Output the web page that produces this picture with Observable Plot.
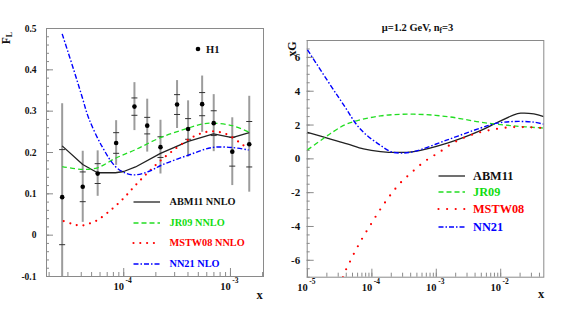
<!DOCTYPE html>
<html><head><meta charset="utf-8">
<script src="https://cdn.jsdelivr.net/npm/d3@7"></script>
<script src="https://cdn.jsdelivr.net/npm/@observablehq/plot@0.6"></script>
<style>
body{margin:0;background:#fff;}
#wrap{position:relative;width:565px;height:320px;overflow:hidden;font-family:"Liberation Serif","DejaVu Serif",serif;font-weight:bold;}
.panel{position:absolute;top:0;}
.lab{position:absolute;white-space:nowrap;line-height:1;}
</style></head><body><div id="wrap"></div>
<script>
// ---------- Left panel: F_L (H1 data + predictions) ----------
const h1X    = [2.65e-5, 4.13e-5, 5.70e-5, 8.49e-5, 1.26e-4, 1.66e-4, 2.21e-4, 3.16e-4, 4.01e-4, 5.43e-4, 6.97e-4, 1.04e-3, 1.50e-3];
const h1Y    = [0.092, 0.117, 0.149, 0.223, 0.311, 0.265, 0.213, 0.316, 0.257, 0.317, 0.271, 0.202, 0.220];
const h1Tot  = [0.226, 0.086, 0.055, 0.054, 0.058, 0.064, 0.065, 0.058, 0.068, 0.068, 0.069, 0.082, 0.116];
const h1Stat = [0.115, 0.036, 0.024, 0.025, 0.021, 0.020, 0.025, 0.024, 0.025, 0.028, 0.030, 0.035, 0.055];

const flAbmX = [2.65e-5, 4.13e-5, 5.68e-5, 8.36e-5, 1.00e-4, 1.29e-4, 2.21e-4, 4.02e-4, 6.93e-4, 1.04e-3, 1.50e-3];
const flAbmY = [0.216, 0.171, 0.151, 0.151, 0.154, 0.165, 0.198, 0.227, 0.245, 0.236, 0.248];

const flJrX = [2.65e-5, 4.13e-5, 5.68e-5, 8.36e-5, 1.29e-4, 2.21e-4, 4.02e-4, 5.43e-4, 6.93e-4, 1.04e-3, 1.50e-3];
const flJrY = [0.166, 0.159, 0.163, 0.186, 0.207, 0.236, 0.259, 0.269, 0.271, 0.265, 0.249];

const flMstwX = [2.74e-5, 3.33e-5, 3.95e-5, 4.74e-5, 5.64e-5, 7.50e-5, 9.87e-5, 1.27e-4, 1.66e-4, 2.16e-4, 2.84e-4, 4.47e-4, 6.40e-4, 9.04e-4, 1.22e-3, 1.41e-3];
const flMstwY = [0.034, 0.027, 0.023, 0.028, 0.036, 0.060, 0.088, 0.119, 0.150, 0.178, 0.203, 0.238, 0.251, 0.245, 0.224, 0.212];

const flNnX = [2.65e-5, 3.40e-5, 4.07e-5, 4.70e-5, 6.28e-5, 8.36e-5, 1.04e-4, 1.29e-4, 1.71e-4, 2.29e-4, 4.07e-4, 6.73e-4, 1.04e-3, 1.48e-3];
const flNnY = [0.487, 0.400, 0.335, 0.283, 0.214, 0.166, 0.150, 0.146, 0.154, 0.170, 0.194, 0.212, 0.212, 0.206];

const flYTicks = [-0.1, 0, 0.1, 0.2, 0.3, 0.4, 0.5];
const flXTicks = [1e-4, 1e-3];

// ---------- Right panel: xG at mu = 1.2 GeV ----------
const gAbmX = [1e-5, 2.28e-5, 4.13e-5, 7.41e-5, 1.36e-4, 2.47e-4, 4.48e-4, 1.48e-3, 4.85e-3, 8.82e-3, 1.60e-2, 2.04e-2, 3.27e-2, 4.67e-2];
const gAbmY = [1.56, 1.17, 0.89, 0.59, 0.43, 0.38, 0.43, 0.93, 1.67, 2.15, 2.60, 2.70, 2.66, 2.50];

const gJrX = [1e-5, 1.79e-5, 2.28e-5, 4.13e-5, 1.36e-4, 4.48e-4, 1.48e-3, 4.85e-3, 1.60e-2, 4.67e-2];
const gJrY = [0.53, 1.22, 1.50, 2.07, 2.54, 2.64, 2.50, 2.17, 1.95, 1.82];

const gMstwX = [3.55e-5, 3.95e-5, 4.54e-5, 5.24e-5, 6.97e-5, 9.51e-5, 1.30e-4, 1.83e-4, 2.68e-4, 4.12e-4, 6.56e-4, 1.09e-3, 1.87e-3, 3.20e-3, 6.17e-3, 1.60e-2, 4.67e-2];
const gMstwY = [-7.0, -6.56, -6.10, -5.62, -4.75, -3.91, -3.08, -2.27, -1.48, -0.81, -0.16, 0.37, 0.96, 1.36, 1.67, 1.88, 1.82];

const gNnX = [1e-5, 2.28e-5, 3.89e-5, 5.91e-5, 8.6e-5, 1.36e-4, 1.95e-4, 2.78e-4, 4.48e-4, 1.48e-3, 4.85e-3, 8.82e-3, 1.60e-2, 3.27e-2, 4.67e-2];
const gNnY = [6.45, 4.35, 3.03, 1.98, 1.35, 0.80, 0.43, 0.34, 0.43, 1.12, 1.82, 2.11, 2.21, 2.17, 2.05];

const gYTicks = [-6, -4, -2, 0, 2, 4, 6];
const gXTicks = [1e-5, 1e-4, 1e-3, 1e-2];

// ---------- legend ----------
const leftNames  = ["ABM11 NNLO", "JR09 NNLO", "MSTW08 NNLO", "NN21 NLO"];
const rightNames = ["ABM11", "JR09", "MSTW08", "NN21"];
const seriesColors = ["#222222", "#22dd22", "#ff0000", "#0000ff"];
const textColors   = ["#111111", "#11dd11", "#ff0000", "#0000ff"];

// ---------- styles ----------
const serif = '"Liberation Serif","DejaVu Serif",serif';
const gray = "#8a8a8a";
function styleFor(i, dotGap) {
  return [
    {strokeWidth: 1.3, strokeDasharray: null, strokeLinecap: "butt"},
    {strokeWidth: 1.3, strokeDasharray: "5,3", strokeLinecap: "butt"},
    {strokeWidth: 2.2, strokeDasharray: "0," + dotGap, strokeLinecap: "round"},
    {strokeWidth: 1.4, strokeDasharray: "5,2,1.5,2", strokeLinecap: "butt"}
  ][i];
}

function minorLinear(lo, hi, step) {
  const out = [];
  for (let v = lo; v <= hi + 1e-9; v += step) out.push(+v.toFixed(6));
  return out;
}
function minorLog(lo, hi) {
  const out = [];
  for (let e = Math.floor(Math.log10(lo)); e <= Math.ceil(Math.log10(hi)); e++)
    for (let m = 1; m < 10; m++) { const v = m * Math.pow(10, e); if (v >= lo && v <= hi) out.push(v); }
  return out;
}
const tickSym = {draw(ctx) { ctx.moveTo(-3, 0); ctx.lineTo(3, 0); }};

function curveMarks(xsList, ysList, dotGap, firstLinear) {
  return xsList.map((xs, i) => Plot.line(ysList[i], {
    x: xs, y: ysList[i], stroke: seriesColors[i], curve: (i === 0 && firstLinear) ? "linear" : "catmull-rom", clip: true, ...styleFor(i, dotGap)
  }));
}

function axesMarks(xDom, yTicks, yMinor, xTicks, yPad, yFont) {
  return [
    Plot.frame({stroke: gray, strokeWidth: 1}),
    Plot.axisY(yMinor, {tickSize: -3, fill: "none", stroke: gray, label: null}),
    Plot.axisY(yTicks, {tickSize: -7, fill: "none", stroke: gray, label: null}),
    Plot.axisY(yTicks, {tickSize: 0, tickPadding: yPad, fontSize: yFont, fontWeight: "bold", fill: "#111", tickFormat: d => String(d), label: null}),
    Plot.axisX(minorLog(xDom[0], xDom[1]), {tickSize: -4, fill: "none", stroke: gray, label: null}),
    Plot.axisX(xTicks, {tickSize: -8, fill: "none", stroke: gray, label: null}),
    Plot.axisX(xTicks, {tickSize: 0, tickPadding: 6, fontSize: 10.5, fontWeight: "bold", fill: "#111", dx: -5, tickFormat: () => "10", label: null}),
    Plot.axisX(xTicks, {tickSize: 0, tickPadding: 1, fontSize: 7.5, fontWeight: "bold", fill: "#111", dx: 5, tickFormat: d => String(Math.round(Math.log10(d))), label: null})
  ];
}

// ---------- left plot ----------
const leftDom = [1.89e-5, 2.04e-3];
const statX = h1X.concat(h1X);
const statY = h1Y.map((v, i) => v + h1Stat[i]).concat(h1Y.map((v, i) => v - h1Stat[i]));
const leftPlot = Plot.plot({
  width: 285, height: 320,
  marginLeft: 46, marginRight: 22, marginTop: 28, marginBottom: 44,
  x: {type: "log", domain: leftDom},
  y: {domain: [-0.1, 0.5]},
  style: {fontFamily: serif, background: "transparent", color: "#111", overflow: "visible"},
  marks: [
    ...axesMarks(leftDom, flYTicks, minorLinear(-0.1, 0.5, 0.02), flXTicks, 10, 9.5),
    Plot.ruleX(h1X, {x: h1X, y1: h1Y.map((v, i) => v - h1Tot[i]), y2: h1Y.map((v, i) => v + h1Tot[i]), stroke: "#9c9c9c", strokeWidth: 2, clip: true}),
    Plot.dot(statX, {x: statX, y: statY, symbol: tickSym, stroke: "#333", strokeWidth: 1, r: 3, clip: true}),
    ...curveMarks([flAbmX, flJrX, flMstwX, flNnX], [flAbmY, flJrY, flMstwY, flNnY], 6.8, true),
    Plot.dot(h1X, {x: h1X, y: h1Y, r: 2.3, fill: "#000", stroke: "none"})
  ]
});

// ---------- right plot ----------
const rightDom = [9.9e-6, 4.67e-2];
const rightPlot = Plot.plot({
  width: 280, height: 320,
  marginLeft: 21.7, marginRight: 21.7, marginTop: 40, marginBottom: 43.3,
  x: {type: "log", domain: rightDom},
  y: {domain: [-7, 7]},
  style: {fontFamily: serif, background: "transparent", color: "#111", overflow: "visible"},
  marks: [
    ...axesMarks(rightDom, gYTicks, minorLinear(-7, 7, 0.5), gXTicks, 7, 11),
    ...curveMarks([gAbmX, gJrX, gMstwX, gNnX], [gAbmY, gJrY, gMstwY, gNnY], 8.6, false)
  ]
});

const wrap = document.getElementById("wrap");
leftPlot.classList.add("panel"); leftPlot.style.left = "0px";
rightPlot.classList.add("panel"); rightPlot.style.left = "285px";
wrap.appendChild(leftPlot); wrap.appendChild(rightPlot);

function label(html, x, y, size, color, transform) {
  const d = document.createElement("div");
  d.className = "lab";
  d.innerHTML = html;
  d.style.left = x + "px"; d.style.top = y + "px";
  d.style.fontSize = size + "px"; d.style.color = color || "#111";
  d.style.transform = transform || "translate(0,-50%)";
  wrap.appendChild(d);
  return d;
}
function sample(i, x, y, w, dotGap) {
  const ns = "http://www.w3.org/2000/svg";
  const st = styleFor(i, dotGap);
  const s = document.createElementNS(ns, "svg");
  s.setAttribute("width", w); s.setAttribute("height", 6);
  s.style.position = "absolute"; s.style.left = x + "px"; s.style.top = (y - 3) + "px";
  const l = document.createElementNS(ns, "line");
  l.setAttribute("x1", 1.5); l.setAttribute("x2", w - 1); l.setAttribute("y1", 3); l.setAttribute("y2", 3);
  l.setAttribute("stroke", seriesColors[i]);
  l.setAttribute("stroke-width", st.strokeWidth);
  if (st.strokeDasharray) l.setAttribute("stroke-dasharray", st.strokeDasharray);
  l.setAttribute("stroke-linecap", st.strokeLinecap);
  s.appendChild(l);
  wrap.appendChild(s);
}

// axis titles
label('F<sub style="font-size:0.7em;vertical-align:-0.25em">L</sub>', 7.5, 37.5, 11.5, "#111", "translate(-50%,-50%) rotate(-90deg)");
label("xG", 291.5, 49, 12, "#111", "translate(-50%,-50%) rotate(-90deg)");
label("x", 259.5, 295, 12.5, "#111", "translate(-50%,-50%)");
label("x", 541, 294, 12.5, "#111", "translate(-50%,-50%)");
label('μ=1.2 GeV, n<sub style="font-size:0.7em;vertical-align:-0.25em">f</sub>=3', 417.5, 29, 10.5, "#111", "translate(-50%,-50%)");

// H1 legend
(function () {
  const ns = "http://www.w3.org/2000/svg";
  const s = document.createElementNS(ns, "svg");
  s.setAttribute("width", 8); s.setAttribute("height", 8);
  s.style.position = "absolute"; s.style.left = "194.3px"; s.style.top = "45px";
  const c = document.createElementNS(ns, "circle");
  c.setAttribute("cx", 4); c.setAttribute("cy", 4); c.setAttribute("r", 2.3); c.setAttribute("fill", "#000");
  s.appendChild(c); wrap.appendChild(s);
})();
label("H1", 206, 49.5, 10.5, "#111");

// left legend
const leftLegY = [202, 222.7, 243.3, 264.3];
leftNames.forEach((n, i) => { sample(i, 132, leftLegY[i], 29, 6.8); label(n, 169.5, leftLegY[i], 10.3, textColors[i]); });
// right legend
const rightLegY = [175.7, 192.3, 209.3, 226.7];
rightNames.forEach((n, i) => { sample(i, 437, rightLegY[i], 29, 8.6); label(n, 473, rightLegY[i], 12.3, textColors[i]); });
</script>
</body></html>
